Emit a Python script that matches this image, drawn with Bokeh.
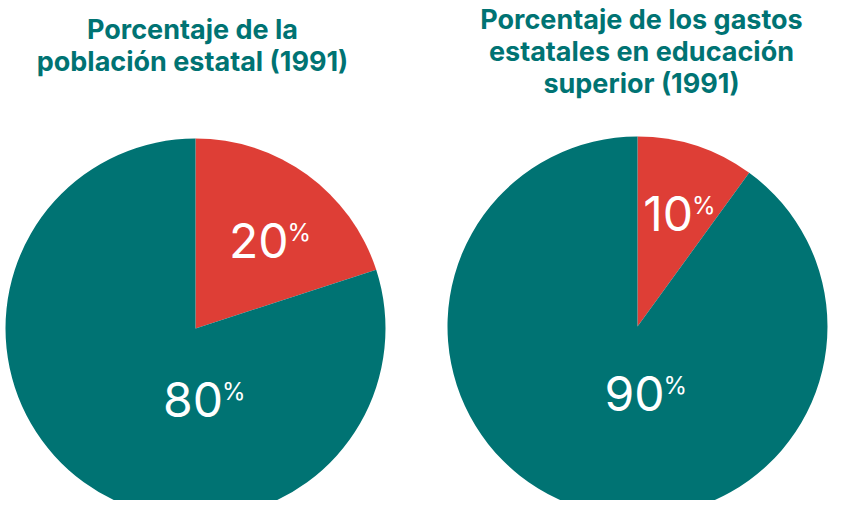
import math
from bokeh.plotting import figure
from bokeh.models import Range1d, ColumnDataSource
from bokeh.core.properties import value
from bokeh.embed import file_html
from bokeh.resources import INLINE

# ---- data ----
segments = ["Educación superior / grupo", "Resto"]
values_left = [20, 80]
values_right = [10, 90]
titles_left = ["Porcentaje de la", "población estatal (1991)"]
titles_right = ["Porcentaje de los gastos", "estatales en educación", "superior (1991)"]
colors = ["#DE3E36", "#007373"]

# ---- layout (screen-like data units; y measured upward) ----
W, H = 828, 500
SH = 516
p = figure(width=W, height=H, output_backend="svg", toolbar_location=None,
           x_range=Range1d(0, W), y_range=Range1d(SH - H, SH),
           x_axis_location=None, y_axis_location=None, min_border=0)
p.grid.visible = False
p.outline_line_color = None
p.background_fill_color = "white"

R = 190
pies = [
    dict(cx=195, cy=SH - 328, tx=192, vals=values_left, titles=titles_left, title_top=SH - 38,
         label_off=[(93, 71), (27.5, -88)]),
    dict(cx=637, cy=SH - 326, tx=641, vals=values_right, titles=titles_right, title_top=SH - 28,
         label_off=[(55.5, 96), (27, -84)]),
]

FONT_T = value("Inter")
FONT_N = value("Inter")
TEAL = "#007373"
NUM_FS, PCT_FS, TTL_FS = 48, 24, 27
SHIFT = 0.35  # baseline correction (fraction of font size)

for pie in pies:
    total = sum(pie["vals"])
    starts, ends = [], []
    top = math.pi / 2
    acc = 0.0
    for v in pie["vals"]:
        end = top - acc / total * 2 * math.pi
        start = top - (acc + v) / total * 2 * math.pi
        starts.append(start)
        ends.append(end)
        acc += v
    src = ColumnDataSource(dict(x=[pie["cx"]] * len(pie["vals"]), y=[pie["cy"]] * len(pie["vals"]),
                                start=starts, end=ends, color=colors, seg=segments))
    p.wedge(x="x", y="y", radius=R, start_angle="start", end_angle="end",
            fill_color="color", line_color=None, source=src)

    # value labels
    nx, ny, ntxt, px, py = [], [], [], [], []
    for v, (dx, dy) in zip(pie["vals"], pie["label_off"]):
        nx.append(pie["cx"] + dx)
        ny.append(pie["cy"] + dy + SHIFT * NUM_FS)
        ntxt.append(str(v))
        px.append(pie["cx"] + dx - 1)
        py.append(pie["cy"] + dy + 17 + SHIFT * PCT_FS)
    p.text(x=nx, y=ny, text=ntxt, text_color="white", text_font=FONT_N,
           text_font_size=f"{NUM_FS}px", text_align="right", text_baseline="alphabetic")
    p.text(x=px, y=py, text=["%"] * len(px), text_color="white", text_font=FONT_N,
           text_font_size=f"{PCT_FS}px", text_align="left", text_baseline="alphabetic")

    # titles
    n = len(pie["titles"])
    ty = [pie["title_top"] - 32 * i + SHIFT * TTL_FS for i in range(n)]
    p.text(x=[pie["tx"]] * n, y=ty, text=pie["titles"], text_color=TEAL, text_font=FONT_T,
           text_font_size=f"{TTL_FS}px", text_font_style="bold", text_align="center",
           text_baseline="alphabetic")

open("out.html", "w").write(file_html(p, INLINE))
